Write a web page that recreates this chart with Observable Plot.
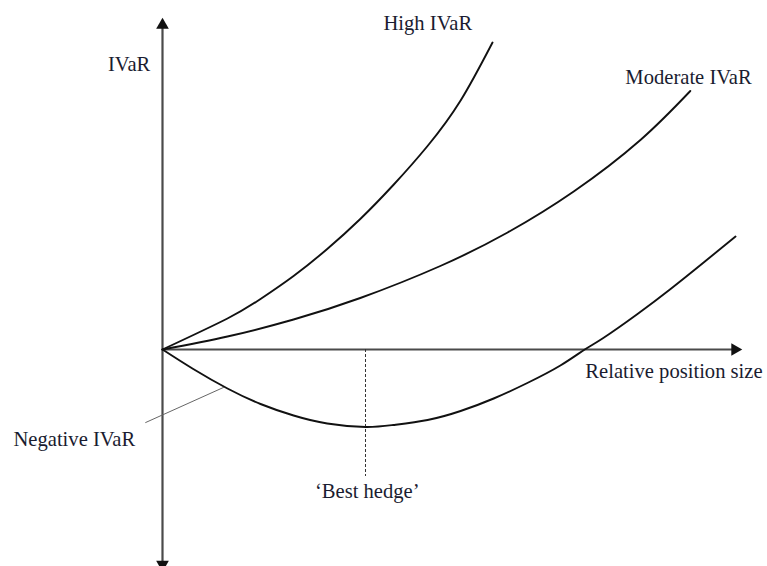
<!DOCTYPE html>
<html>
<head>
<meta charset="utf-8">
<script src="https://cdn.jsdelivr.net/npm/d3@7"></script>
<script src="https://cdn.jsdelivr.net/npm/@observablehq/plot@0.6"></script>
<style>
  html, body { margin: 0; padding: 0; background: #fff; }
  #chart svg { display: block; }
</style>
</head>
<body>
<div id="chart"></div>
<script>
// Relative position size (x) and IVaR (y) for each curve
const highX = [0, 11.2, 16.9, 22.6, 28.4, 34.1, 39.8, 45.7, 51.4, 56.9];
const highY = [0, 6.2, 10.1, 14.7, 20.1, 26.1, 32.9, 40.7, 49.8, 61.4];

const moderateX = [0, 11.2, 22.6, 34.1, 47.9, 59.5, 70.9, 82.4, 91.0];
const moderateY = [0, 2.6, 6.0, 10.3, 16.7, 23.4, 31.6, 41.9, 51.7];

const negativeX = [0, 5.3, 11.2, 16.9, 22.6, 28.4, 35.0, 39.8, 45.7, 51.4, 57.1, 62.9, 68.6, 72.8, 76.0, 81.9, 87.6, 93.3, 98.8];
const negativeY = [0, -3.9, -7.8, -10.9, -13.2, -14.8, -15.5, -15.1, -14.1, -12.3, -9.8, -6.7, -3.2, 0, 2.3, 7.1, 12.1, 17.4, 22.6];

const bestHedgeX = 35.0;

// Label texts
const labelTexts = ["IVaR", "High IVaR", "Moderate IVaR", "Relative position size", "Negative IVaR", "\u2018Best hedge\u2019"];

const toRows = (xs, ys) => xs.map((x, i) => ({x, y: ys[i]}));
const high = toRows(highX, highY);
const moderate = toRows(moderateX, moderateY);
const negative = toRows(negativeX, negativeY);

const labelsEnd = [{x: -2.1, y: 57.1, text: labelTexts[0]}];
const labelsStart = [
  {x: 38.1, y: 65.3, text: labelTexts[1]},
  {x: 79.8, y: 54.5, text: labelTexts[2]},
  {x: 72.9, y: -4.3, text: labelTexts[3]},
  {x: -25.7, y: -18.0, text: labelTexts[4]}
];
const labelsMiddle = [{x: 35.3, y: -28.3, text: labelTexts[5]}];

const leader = [{x: -2.9, y: -14.6}, {x: 10.5, y: -7.6}];

const axisColor = "#4a4a4a";
const font = "Liberation Serif, Times New Roman, serif";
const textOpts = {x: "x", y: "y", text: "text", fontSize: 20.6, fontFamily: font, fill: "#1a1c30"};

const chart = Plot.plot({
  width: 767,
  height: 566,
  marginLeft: 162,
  marginRight: 25,
  marginTop: 17,
  marginBottom: 17,
  x: {domain: [0, 100], axis: null},
  y: {domain: [-40, 66.4], axis: null},
  style: {background: "#fff", fontFamily: font},
  marks: [
    // axes
    Plot.ruleX([0], {y1: -43.4, y2: 64.9, stroke: axisColor, strokeWidth: 2.2}),
    Plot.ruleY([0], {x1: 0, x2: 98.7, stroke: axisColor, strokeWidth: 2.2}),
    Plot.dot([{x: 0, y: 64.9}], {x: "x", y: "y", symbol: "triangle", r: 4.7, fill: "#111", stroke: null}),
    Plot.dot([{x: 0, y: -43.0}], {x: "x", y: "y", symbol: "triangle", r: 4.7, fill: "#111", stroke: null, rotate: 180}),
    Plot.dot([{x: 98.7, y: 0}], {x: "x", y: "y", symbol: "triangle", r: 4.7, fill: "#111", stroke: null, rotate: 90}),
    // best hedge dashed line
    Plot.ruleX([bestHedgeX], {y1: 0, y2: -25.4, stroke: "#333", strokeWidth: 1, strokeDasharray: "3,2"}),
    // leader line
    Plot.line(leader, {x: "x", y: "y", stroke: "#666", strokeWidth: 1}),
    // curves
    Plot.line(high, {x: "x", y: "y", curve: "natural", stroke: "#111", strokeWidth: 1.9}),
    Plot.line(moderate, {x: "x", y: "y", curve: "natural", stroke: "#111", strokeWidth: 1.9}),
    Plot.line(negative, {x: "x", y: "y", curve: "natural", stroke: "#111", strokeWidth: 1.9}),
    // labels
    Plot.text(labelsEnd, {...textOpts, textAnchor: "end"}),
    Plot.text(labelsStart, {...textOpts, textAnchor: "start"}),
    Plot.text(labelsMiddle, {...textOpts, textAnchor: "middle"})
  ]
});

document.getElementById("chart").appendChild(chart);
</script>
</body>
</html>
